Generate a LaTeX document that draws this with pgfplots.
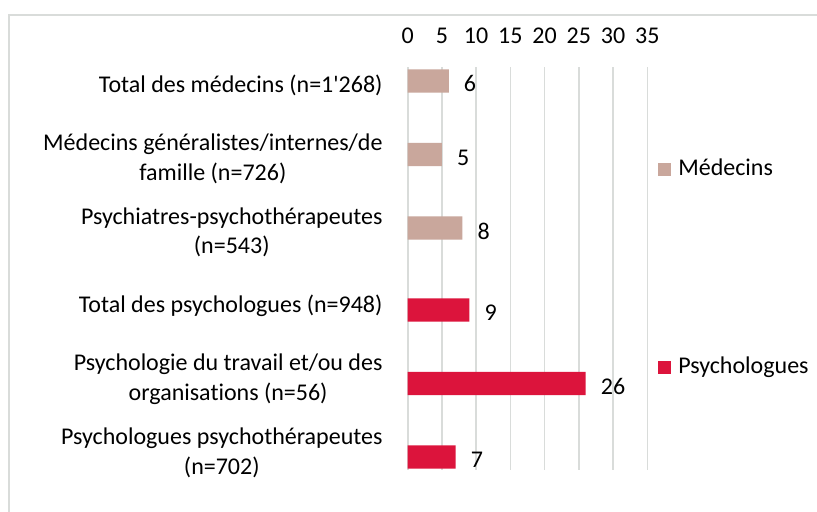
\documentclass[border=0pt]{standalone}
\usepackage{fontspec}
\setmainfont{Carlito}[Ligatures={TeX,NoCommon}]
\usepackage{pgfplots}
\pgfplotsset{compat=1.18}
\definecolor{medc}{HTML}{C9A79C}
\definecolor{psyc}{HTML}{DC143C}
\definecolor{gridc}{HTML}{D9DCDA}
\begin{document}
\fontsize{24bp}{29.5bp}\selectfont
\begin{tikzpicture}
\useasboundingbox (0,0) rectangle (817bp,-512bp);
\fill[white] (0,0) rectangle (817bp,-512bp);
\draw[gridc, line width=1.6bp] (8.9bp,-512bp) -- (8.9bp,-14.9bp) -- (817bp,-14.9bp);
\begin{axis}[
  at={(407.7bp,-470bp)}, anchor=south west,
  scale only axis, width=239.6bp, height=403bp,
  xbar, bar width=23.3bp,
  xmin=0, xmax=35, ymin=-0.248, ymax=5.235,
  y dir=reverse,
  xtick={0,5,...,35},
  xticklabel pos=upper,
  ytick={0,1,2,3,4,5},
  yticklabels={
    {Total des médecins (n=1\textquotesingle 268)},
    {Médecins généralistes/internes/de\\famille (n=726)},
    {Psychiatres-psychothérapeutes\\(n=543)},
    {Total des psychologues (n=948)},
    {Psychologie du travail et/ou des\\organisations (n=56)},
    {Psychologues psychothérapeutes\\(n=702)}},
  yticklabel style={align=center, inner sep=0pt, anchor=east, xshift=-25bp},
  xticklabel style={inner sep=0pt, anchor=south, yshift=23bp},
  /pgf/number format/assume math mode=true,
  major tick length=0pt,
  axis line style={draw=none},
  xmajorgrids, grid style={gridc, line width=1.6bp},
  clip=false,
  nodes near coords,
  point meta=x,
  nodes near coords style={anchor=west, inner sep=0pt, xshift=15bp, yshift=-3bp, text=black},
  legend style={draw=none, fill=none, at={(1.045,0.5)}, anchor=west, inner sep=0pt,
    row sep=176bp, nodes={inner sep=0pt, text depth=5bp, text height=17bp},
    /tikz/every odd column/.append style={column sep=7bp}},
  legend cell align=left,
  legend image code/.code={\fill[#1] (0bp,-6.5bp) rectangle (13bp,6.5bp);},
]
\addplot[fill=medc, draw=none, bar shift=4.25bp] coordinates {(6,0) (5,1) (8,2)};
\addlegendentry{Médecins}
\addplot[fill=psyc, draw=none, bar shift=-4.25bp] coordinates {(9,3) (26,4) (7,5)};
\addlegendentry{Psychologues}
\end{axis}
\end{tikzpicture}
\end{document}
